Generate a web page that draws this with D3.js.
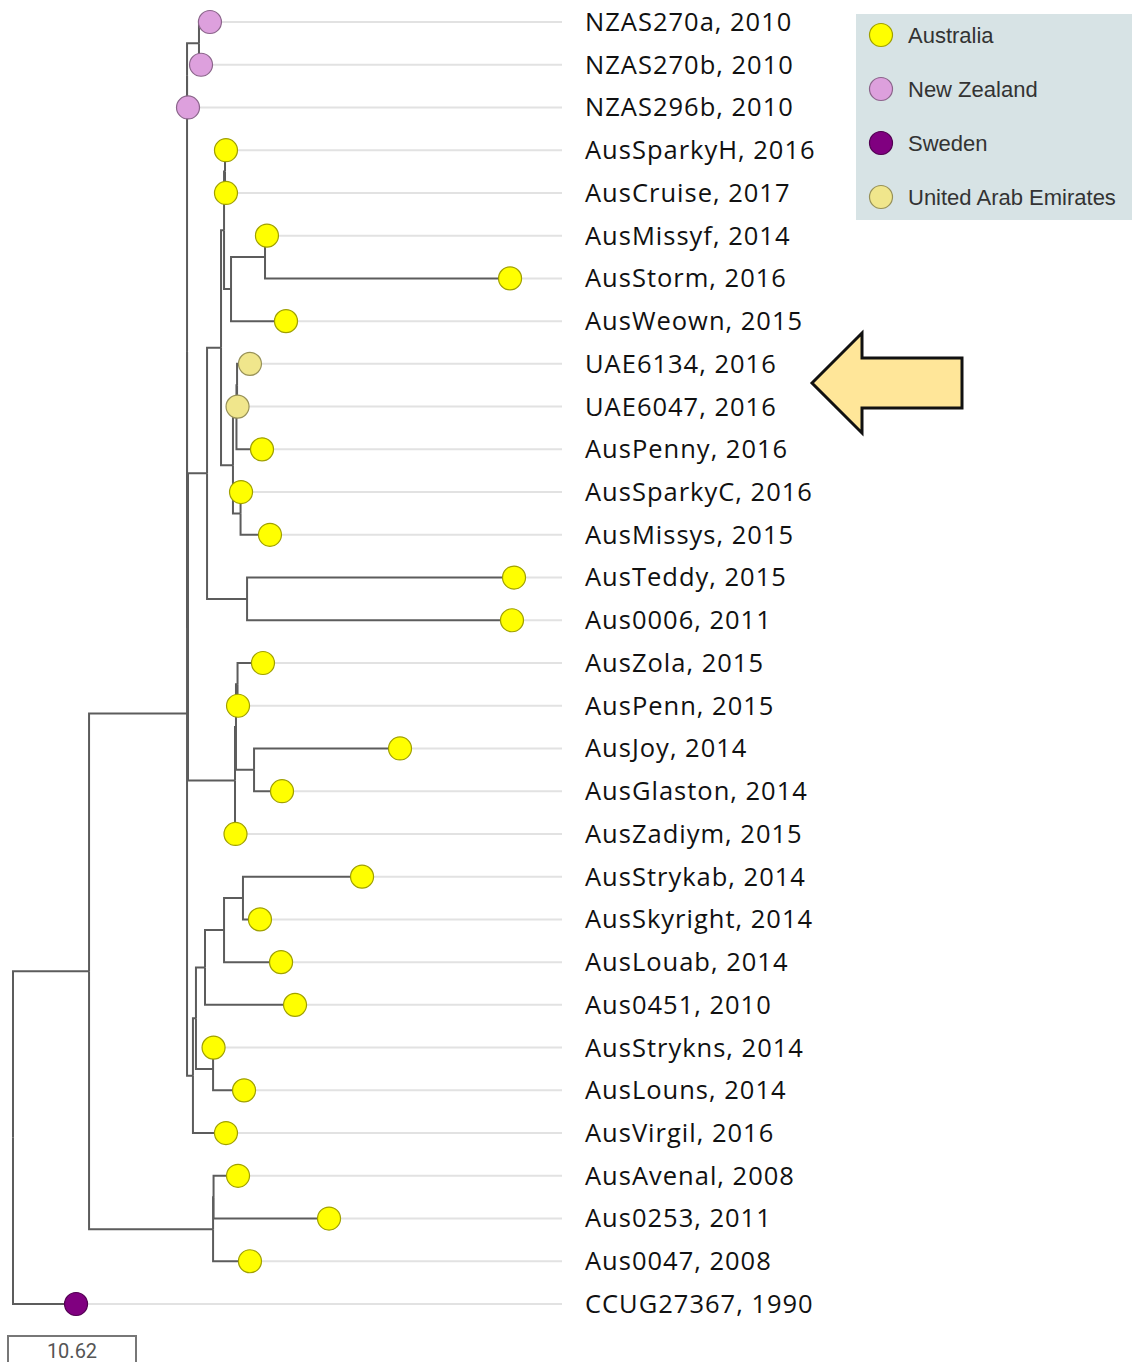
<!DOCTYPE html>
<html>
<head>
<meta charset="utf-8">
<script src="https://cdn.jsdelivr.net/npm/d3@7"></script>
<style>
  body { margin: 0; background: #fff; }
  svg { display: block; }
</style>
</head>
<body>
<div id="tree"></div>
<script>
var w = 1132;
var h = 1362;

// tree: preorder list of nodes, parent and distance from root (scale-bar units)
var nodeIds = ["root", "A", "B", "B1", "NZ", "NZ1", "NZAS270a", "NZAS270b", "NZAS296b",
  "PQ", "P", "P1", "SCM", "SC", "AusSparkyH", "AusCruise", "M2", "M", "AusMissyf", "AusStorm", "AusWeown",
  "U3", "U2", "U1", "UAE6134", "UAE6047", "AusPenny", "S", "AusSparkyC", "AusMissys",
  "TE", "AusTeddy", "Aus0006",
  "Q", "Q2", "Q1", "AusZola", "AusPenn", "JG", "AusJoy", "AusGlaston", "AusZadiym",
  "R0", "R1", "R2", "R4", "R5", "AusStrykab", "AusSkyright", "AusLouab", "Aus0451",
  "R3", "AusStrykns", "AusLouns", "AusVirgil",
  "C", "C1", "AusAvenal", "Aus0253", "Aus0047", "CCUG27367"];
var parentIds = ["", "root", "A", "B", "B1", "NZ", "NZ1", "NZ1", "NZ",
  "B1", "PQ", "P", "P1", "SCM", "SC", "SC", "SCM", "M2", "M", "M", "M2",
  "P1", "U3", "U2", "U1", "U1", "U2", "U3", "S", "S",
  "P", "TE", "TE",
  "PQ", "Q", "Q2", "Q1", "Q1", "Q2", "JG", "JG", "Q",
  "B", "R0", "R1", "R2", "R4", "R5", "R5", "R4", "R2",
  "R1", "R3", "R3", "R0",
  "A", "C", "C1", "C1", "C", "root"];
var rootDist = [0, 6.31, 14.44, 14.44, 14.44, 15.43, 16.34, 15.60, 14.52,
  14.52, 16.10, 17.26, 17.51, 17.59, 17.67, 17.67, 18.09, 20.91, 21.07, 41.24, 22.65,
  18.25, 18.54, 18.59, 19.66, 18.63, 20.66, 18.88, 18.92, 21.32,
  19.42, 41.57, 41.40,
  18.42, 18.50, 18.63, 20.74, 18.67, 20.00, 32.11, 22.32, 18.46,
  14.93, 15.18, 15.93, 17.51, 19.08, 28.96, 20.49, 22.24, 23.40,
  16.60, 16.64, 19.17, 17.67,
  16.60, 16.64, 18.67, 26.22, 19.66, 5.23];

// leaves, top to bottom
var leafNames = ["NZAS270a", "NZAS270b", "NZAS296b", "AusSparkyH", "AusCruise", "AusMissyf",
  "AusStorm", "AusWeown", "UAE6134", "UAE6047", "AusPenny", "AusSparkyC", "AusMissys",
  "AusTeddy", "Aus0006", "AusZola", "AusPenn", "AusJoy", "AusGlaston", "AusZadiym",
  "AusStrykab", "AusSkyright", "AusLouab", "Aus0451", "AusStrykns", "AusLouns", "AusVirgil",
  "AusAvenal", "Aus0253", "Aus0047", "CCUG27367"];
var leafYears = [2010, 2010, 2010, 2016, 2017, 2014, 2016, 2015, 2016, 2016, 2016, 2016, 2015,
  2015, 2011, 2015, 2015, 2014, 2014, 2015, 2014, 2014, 2014, 2010, 2014, 2014, 2016,
  2008, 2011, 2008, 1990];
var leafCountries = ["New Zealand", "New Zealand", "New Zealand", "Australia", "Australia",
  "Australia", "Australia", "Australia", "United Arab Emirates", "United Arab Emirates",
  "Australia", "Australia", "Australia", "Australia", "Australia", "Australia", "Australia",
  "Australia", "Australia", "Australia", "Australia", "Australia", "Australia", "Australia",
  "Australia", "Australia", "Australia", "Australia", "Australia", "Australia", "Sweden"];

var countries = ["Australia", "New Zealand", "Sweden", "United Arab Emirates"];
var countryColors = ["#ffff00", "#dda0dd", "#800080", "#f0e68c"];
var scaleValue = 10.62;

var color = d3.scaleOrdinal().domain(countries).range(countryColors);

var rows = nodeIds.map(function(id, i) {
  return {id: id, parent: parentIds[i], dist: rootDist[i]};
});
var root = d3.stratify()
  .id(function(d) { return d.id; })
  .parentId(function(d) { return d.parent || null; })(rows);

var xScale = d3.scaleLinear().domain([0, scaleValue]).range([13, 141]);
var yScale = d3.scalePoint().domain(leafNames).range([22, 1304]);

// leaves on rows, inner nodes at the middle of their children
root.eachAfter(function(n) {
  n.px = xScale(n.data.dist);
  if (n.children) {
    n.py = d3.mean(n.children, function(c) { return c.py; });
  } else {
    n.py = yScale(n.id);
  }
});

var svg = d3.select("#tree")
  .append("svg")
  .attr("width", w)
  .attr("height", h);

var leaves = root.leaves();

// light guide lines to the labels
svg.selectAll("line.guide")
  .data(leaves)
  .enter()
  .append("line")
  .attr("class", "guide")
  .attr("x1", function(d) { return d.px; })
  .attr("x2", 562)
  .attr("y1", function(d) { return d.py; })
  .attr("y2", function(d) { return d.py; })
  .attr("stroke", "#e2e2e2")
  .attr("stroke-width", 2);

// branches
svg.selectAll("path.branch")
  .data(root.descendants().slice(1))
  .enter()
  .append("path")
  .attr("class", "branch")
  .attr("d", function(d) {
    return "M" + d.parent.px + "," + d.parent.py + "V" + d.py + "H" + d.px;
  })
  .attr("fill", "none")
  .attr("stroke", "#5c5c5c")
  .attr("stroke-width", 2);

// tip circles
svg.selectAll("circle.tip")
  .data(leaves)
  .enter()
  .append("circle")
  .attr("class", "tip")
  .attr("cx", function(d) { return d.px; })
  .attr("cy", function(d) { return d.py; })
  .attr("r", 11.5)
  .attr("fill", function(d) { return color(leafCountries[leafNames.indexOf(d.id)]); })
  .attr("stroke", function(d) {
    return d3.color(color(leafCountries[leafNames.indexOf(d.id)])).darker(1.3);
  })
  .attr("stroke-width", 1.2);

// labels
svg.selectAll("text.label")
  .data(leafNames)
  .enter()
  .append("text")
  .attr("class", "label")
  .attr("x", 585)
  .attr("y", function(d) { return yScale(d); })
  .attr("dy", "0.35em")
  .attr("font-family", "'Open Sans', sans-serif")
  .attr("font-size", 25.5)
  .attr("letter-spacing", 1)
  .attr("fill", "#111")
  .text(function(d, i) { return d + ", " + leafYears[i]; });

// legend
var legend = svg.append("g").attr("transform", "translate(856,14)");
legend.append("rect")
  .attr("width", 276)
  .attr("height", 206)
  .attr("fill", "#d7e3e5");
var item = legend.selectAll("g.item")
  .data(countries)
  .enter()
  .append("g")
  .attr("class", "item")
  .attr("transform", function(d, i) { return "translate(25," + (21 + i * 54) + ")"; });
item.append("circle")
  .attr("r", 11.5)
  .attr("fill", function(d) { return color(d); })
  .attr("stroke", function(d) { return d3.color(color(d)).darker(1.3); })
  .attr("stroke-width", 1.2);
item.append("text")
  .attr("x", 27)
  .attr("dy", "0.35em")
  .attr("font-family", "'Liberation Sans', Arial, sans-serif")
  .attr("font-size", 22)
  .attr("fill", "#333")
  .text(function(d) { return d; });

// arrow pointing at the UAE strains
var arrowPts = [[812, 383], [862, 333], [862, 358], [962, 358], [962, 408], [862, 408], [862, 433]];
svg.append("polygon")
  .attr("points", arrowPts.map(function(p) { return p.join(","); }).join(" "))
  .attr("fill", "#ffe699")
  .attr("stroke", "#111")
  .attr("stroke-width", 3)
  .attr("stroke-linejoin", "miter");

// scale bar
var barLen = xScale(scaleValue) - xScale(0);
svg.append("path")
  .attr("d", "M8,1362V1336H" + (8 + barLen) + "V1362")
  .attr("fill", "none")
  .attr("stroke", "#777")
  .attr("stroke-width", 2);
svg.append("text")
  .attr("x", 8 + barLen / 2)
  .attr("y", 1358)
  .attr("text-anchor", "middle")
  .attr("font-family", "Roboto, sans-serif")
  .attr("font-size", 20)
  .attr("fill", "#555")
  .text(scaleValue.toFixed(2));
</script>
</body>
</html>
